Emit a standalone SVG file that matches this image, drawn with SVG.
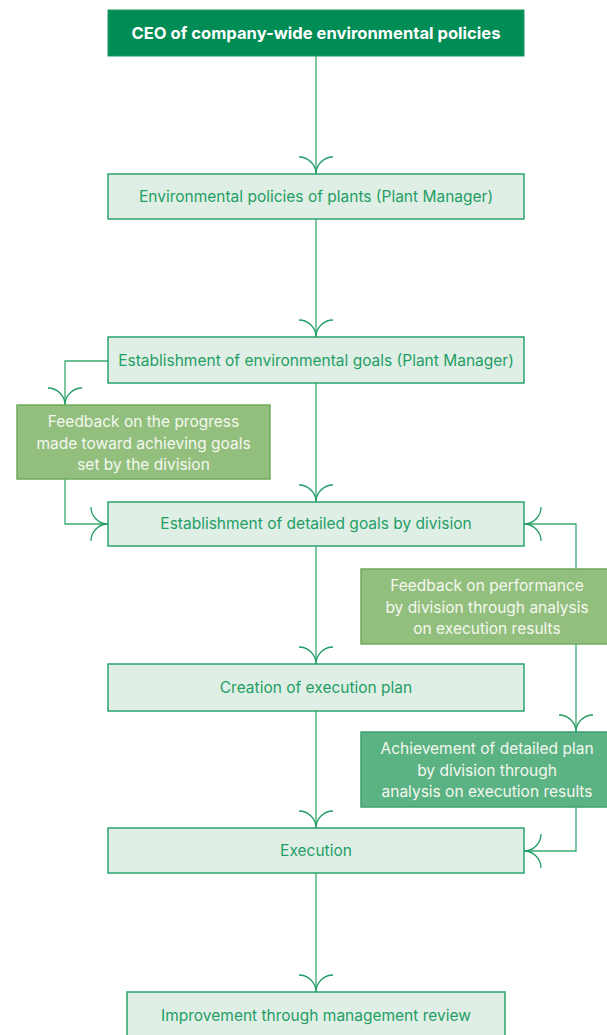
<svg xmlns="http://www.w3.org/2000/svg" width="607" height="1035" viewBox="0 0 607 1035">
<style>
.lb{fill:#DFEFE6;stroke:#2DA36C;stroke-width:1.5}
.lt{fill:#1F9E64;font-family:Inter,"Liberation Sans",sans-serif;font-size:15.5px;text-anchor:middle}
.fb{fill:#93BF7E;stroke:#6EAA5C;stroke-width:1.5}
.ab{fill:#5BB283;stroke:#3FA072;stroke-width:1.5}
.wt{fill:#F3F8EF;font-family:Inter,"Liberation Sans",sans-serif;font-size:15.5px;text-anchor:middle}
.ln{fill:none;stroke:#3AAA72;stroke-width:1.3}
.ah{fill:none;stroke:#1F9E64;stroke-width:1.3}
</style>
<defs>
<path id="arD" class="ah" d="M-17,-17 A17,17 0 0 1 0,0 A17,17 0 0 1 17,-17"/>
</defs>
<g id="connectors">
<line class="ln" x1="316" y1="56" x2="316" y2="174"/>
<use href="#arD" x="316" y="174"/>
<line class="ln" x1="316" y1="219" x2="316" y2="337"/>
<use href="#arD" x="316" y="337"/>
<line class="ln" x1="316" y1="383" x2="316" y2="502"/>
<use href="#arD" x="316" y="502"/>
<line class="ln" x1="316" y1="546" x2="316" y2="664"/>
<use href="#arD" x="316" y="664"/>
<line class="ln" x1="316" y1="711" x2="316" y2="828"/>
<use href="#arD" x="316" y="828"/>
<line class="ln" x1="316" y1="873" x2="316" y2="992"/>
<use href="#arD" x="316" y="992"/>
<polyline class="ln" points="108,361 65,361 65,405"/>
<use href="#arD" x="65" y="405"/>
<polyline class="ln" points="65,479 65,524 108,524"/>
<path class="ah" d="M91,507 A17,17 0 0 0 108,524 A17,17 0 0 0 91,541"/>
<polyline class="ln" points="524,524 576,524 576,569"/>
<path class="ah" d="M541,507 A17,17 0 0 1 524,524 A17,17 0 0 1 541,541"/>
<line class="ln" x1="576" y1="644" x2="576" y2="732"/>
<use href="#arD" x="576" y="732"/>
<polyline class="ln" points="576,807 576,851 524,851"/>
<path class="ah" d="M541,834 A17,17 0 0 1 524,851 A17,17 0 0 1 541,868"/>
</g>
<g id="ceo">
<rect x="108" y="10" width="416" height="46" fill="#008C55" stroke="#1E9A62" stroke-width="1"/>
<text x="316" y="39" fill="#FFFFFF" font-family="Inter,'Liberation Sans',sans-serif" font-size="16.6" font-weight="bold" text-anchor="middle">CEO of company-wide environmental policies</text>
</g>
<g id="plant-policies">
<rect class="lb" x="108" y="174" width="416" height="45"/>
<text class="lt" x="316" y="202">Environmental policies of plants (Plant Manager)</text>
</g>
<g id="env-goals">
<rect class="lb" x="108" y="337" width="416" height="46"/>
<text class="lt" x="316" y="365.5">Establishment of environmental goals (Plant Manager)</text>
</g>
<g id="feedback-progress">
<rect class="fb" x="17" y="405" width="253" height="74"/>
<text class="wt" x="143.5" y="427">Feedback on the progress</text>
<text class="wt" x="143.5" y="448.5">made toward achieving goals</text>
<text class="wt" x="143.5" y="470">set by the division</text>
</g>
<g id="detailed-goals">
<rect class="lb" x="108" y="502" width="416" height="44"/>
<text class="lt" x="316" y="529">Establishment of detailed goals by division</text>
</g>
<g id="feedback-performance">
<rect class="fb" x="361" y="569" width="250" height="75"/>
<text class="wt" x="487" y="591">Feedback on performance</text>
<text class="wt" x="487" y="612.5">by division through analysis</text>
<text class="wt" x="487" y="634">on execution results</text>
</g>
<g id="execution-plan">
<rect class="lb" x="108" y="664" width="416" height="47"/>
<text class="lt" x="316" y="693">Creation of execution plan</text>
</g>
<g id="achievement">
<rect class="ab" x="361" y="732" width="250" height="75"/>
<text class="wt" x="487" y="754">Achievement of detailed plan</text>
<text class="wt" x="487" y="775.5">by division through</text>
<text class="wt" x="487" y="797">analysis on execution results</text>
</g>
<g id="execution">
<rect class="lb" x="108" y="828" width="416" height="45"/>
<text class="lt" x="316" y="856">Execution</text>
</g>
<g id="improvement">
<rect class="lb" x="127" y="992" width="378" height="60"/>
<text class="lt" x="316" y="1021">Improvement through management review</text>
</g>
</svg>
